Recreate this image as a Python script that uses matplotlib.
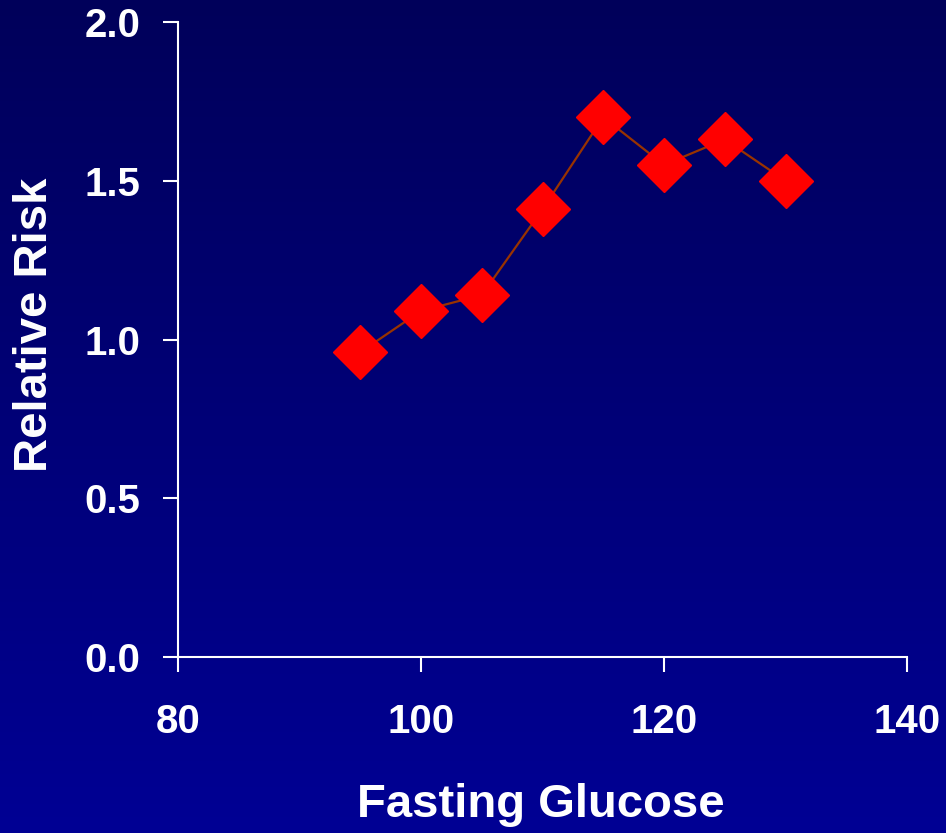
import numpy as np
import matplotlib.pyplot as plt

glucose = [95, 100, 105, 110, 115, 120, 125, 130]
relative_risk = [0.96, 1.09, 1.14, 1.41, 1.70, 1.55, 1.63, 1.50]
x_ticks = [80, 100, 120, 140]
y_ticks = [0.0, 0.5, 1.0, 1.5, 2.0]

plt.rcParams['font.family'] = ['Liberation Sans', 'DejaVu Sans']
plt.rcParams['font.weight'] = 'bold'

W, H = 946, 833
fig = plt.figure(figsize=(W / 100, H / 100), dpi=100)

# vertical blue gradient behind everything
bg = fig.add_axes([0, 0, 1, 1], zorder=-10)
grad = np.linspace(0, 1, 256).reshape(-1, 1)
top = np.array([0x00, 0x00, 0x5a]) / 255
bottom = np.array([0x00, 0x00, 0x94]) / 255
img = top + grad[..., None] * (bottom - top)
bg.imshow(img, aspect='auto', extent=[0, 1, 0, 1], origin='upper')
bg.axis('off')

ax = fig.add_axes([178 / W, 1 - 657 / H, (907 - 178) / W, (657 - 22) / H])
ax.patch.set_alpha(0)

ax.plot(glucose, relative_risk, color='#993300', lw=1.6, zorder=2)
ax.plot(glucose, relative_risk, ls='none', marker='D', ms=27,
        mfc='#ff0000', mec='#ff0000', zorder=3)

ax.set_xlim(80, 140)
ax.set_ylim(0, 2.0)
ax.set_xticks(x_ticks)
ax.set_yticks(y_ticks)
ax.set_yticklabels([f'{v:.1f}' for v in y_ticks])

for side in ['top', 'right']:
    ax.spines[side].set_visible(False)
for side in ['left', 'bottom']:
    ax.spines[side].set_color('white')
    ax.spines[side].set_linewidth(1.5)

ax.tick_params(axis='both', colors='white', direction='out', length=11,
               width=1.5, labelsize=29)
ax.tick_params(axis='y', pad=16)
ax.tick_params(axis='x', pad=22)
for lbl in ax.get_xticklabels() + ax.get_yticklabels():
    lbl.set_fontweight('bold')

fig.text(541 / W, 1 - 805 / H, 'Fasting Glucose', color='white', fontsize=34,
         fontweight='bold', ha='center', va='center')
fig.text(35 / W, 1 - 325 / H, 'Relative Risk', color='white', fontsize=34,
         fontweight='bold', ha='center', va='center', rotation=90)

fig.savefig('out.png', dpi=100)
